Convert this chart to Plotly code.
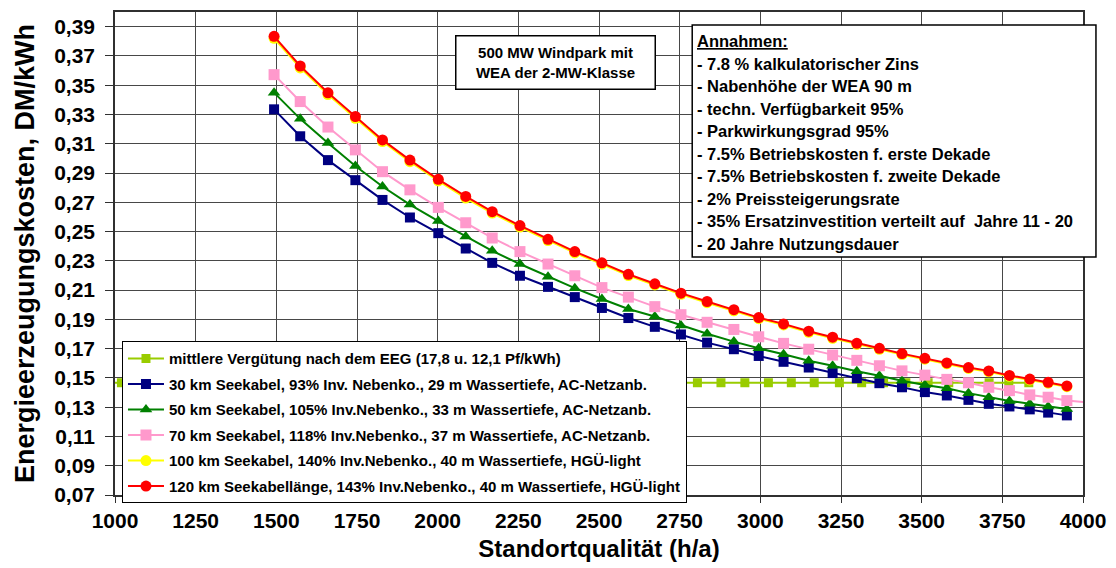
import plotly.graph_objects as go

# Standortqualität (Volllaststunden, h/a) der berechneten Fälle
standort = [1493, 1574, 1660, 1745, 1829, 1914, 2002, 2087, 2169, 2255, 2342,
            2425, 2509, 2591, 2673, 2754, 2835, 2918, 2995, 3072, 3150, 3224,
            3299, 3369, 3439, 3510, 3578, 3645, 3708, 3772, 3835, 3892, 3950]
standort_70km = standort + [4030]
standort_eeg = [920, 1020, 1115, 1209, 1302, 1394, 1485, 1575, 1664, 1752, 1839,
                1925, 2010, 2094, 2177, 2259, 2340, 2420, 2499, 2577, 2654, 2730,
                2805, 2878, 2952, 3025, 3096, 3167, 3245, 3314, 3382, 3451, 3520,
                3584, 3646, 3709, 3770, 3832]

# Energieerzeugungskosten in DM/kWh
eeg = [0.1467, 0.1467, 0.1467, 0.1467, 0.1467, 0.1467, 0.1467, 0.1467, 0.1467,
       0.1467, 0.1467, 0.1467, 0.1467, 0.1467, 0.1467, 0.1467, 0.1467, 0.1467,
       0.1467, 0.1467, 0.1467, 0.1467, 0.1467, 0.1467, 0.1467, 0.1467, 0.1467,
       0.1467, 0.1467, 0.1467, 0.1467, 0.1467, 0.1467, 0.1467, 0.1467, 0.1467,
       0.1467, 0.1467]
km30 = [0.3335, 0.3151, 0.2988, 0.2851, 0.2716, 0.2596, 0.2489, 0.2384, 0.2286,
        0.2198, 0.2122, 0.2052, 0.1978, 0.1909, 0.1849, 0.1797, 0.1741, 0.1696,
        0.1650, 0.1610, 0.1571, 0.1533, 0.1498, 0.1464, 0.1436, 0.1403, 0.1380,
        0.1350, 0.1323, 0.1305, 0.1285, 0.1263, 0.1244]
km50 = [0.3449, 0.3270, 0.3105, 0.2948, 0.2808, 0.2684, 0.2572, 0.2467, 0.2368,
        0.2278, 0.2192, 0.2113, 0.2039, 0.1971, 0.1919, 0.1858, 0.1802, 0.1748,
        0.1702, 0.1662, 0.1617, 0.1583, 0.1545, 0.1515, 0.1481, 0.1452, 0.1429,
        0.1396, 0.1368, 0.1343, 0.1323, 0.1305, 0.1287]
km70 = [0.3572, 0.3388, 0.3214, 0.3058, 0.2909, 0.2785, 0.2665, 0.2560, 0.2456,
        0.2363, 0.2278, 0.2198, 0.2117, 0.2052, 0.1987, 0.1932, 0.1880, 0.1831,
        0.1781, 0.1736, 0.1696, 0.1656, 0.1620, 0.1583, 0.1548, 0.1519, 0.1490,
        0.1467, 0.1436, 0.1413, 0.1384, 0.1368, 0.1345, 0.1330]
km100 = [0.3820, 0.3618, 0.3436, 0.3274, 0.3115, 0.2977, 0.2846, 0.2729, 0.2626,
         0.2531, 0.2438, 0.2354, 0.2277, 0.2199, 0.2135, 0.2071, 0.2014, 0.1958,
         0.1905, 0.1862, 0.1812, 0.1771, 0.1729, 0.1695, 0.1660, 0.1628, 0.1596,
         0.1565, 0.1542, 0.1511, 0.1486, 0.1464, 0.1440]
km120 = [0.3834, 0.3631, 0.3448, 0.3286, 0.3126, 0.2988, 0.2857, 0.2740, 0.2636,
         0.2541, 0.2447, 0.2363, 0.2286, 0.2208, 0.2143, 0.2079, 0.2022, 0.1966,
         0.1912, 0.1869, 0.1819, 0.1778, 0.1736, 0.1702, 0.1666, 0.1634, 0.1602,
         0.1571, 0.1548, 0.1517, 0.1492, 0.1470, 0.1445]

namen = [
    "mittlere Vergütung nach dem EEG (17,8 u. 12,1 Pf/kWh)",
    "30 km Seekabel, 93% Inv. Nebenko., 29 m Wassertiefe, AC-Netzanb.",
    "50 km Seekabel, 105% Inv.Nebenko., 33 m Wassertiefe, AC-Netzanb.",
    "70 km Seekabel, 118% Inv.Nebenko., 37 m Wassertiefe, AC-Netzanb.",
    "100 km Seekabel, 140% Inv.Nebenko., 40 m Wassertiefe, HGÜ-light",
    "120 km Seekabellänge, 143% Inv.Nebenko., 40 m Wassertiefe, HGÜ-light",
]

annahmen = [
    "- 7.8 % kalkulatorischer Zins",
    "- Nabenhöhe der WEA 90 m",
    "- techn. Verfügbarkeit 95%",
    "- Parkwirkungsgrad 95%",
    "- 7.5% Betriebskosten f. erste Dekade",
    "- 7.5% Betriebskosten f. zweite Dekade",
    "- 2% Preissteigerungsrate",
    "- 35% Ersatzinvestition verteilt auf  Jahre 11 - 20",
    "- 20 Jahre Nutzungsdauer",
]

FONT = "Arial, Liberation Sans, sans-serif"

serien = [
    (standort_eeg, eeg, "#99CC00", "square", 9),
    (standort, km30, "#000080", "square", 10),
    (standort, km50, "#008000", "triangle-up", 11),
    (standort_70km, km70, "#FF99CC", "square", 11),
    (standort, km100, "#FFFF00", "circle", 11),
    (standort, km120, "#FF0000", "circle", 11),
]

fig = go.Figure()
for i, ((xv, yv, farbe, symbol, groesse), name) in enumerate(zip(serien, namen)):
    fig.add_trace(go.Scatter(
        x=xv, y=yv, name=name, mode="lines+markers",
        legendgroup=f"g{i}",
        line=dict(color=farbe, width=2),
        marker=dict(color=farbe, symbol=symbol, size=groesse, line=dict(width=0)),
    ))

# Plotbereich in Pixeln (für Papierkoordinaten der Textkästen)
L, R, T, B = 115, 30, 10, 71
W, H = 1116, 568
pw, ph = W - L - R, H - T - B


def px_x(px):
    return (px - L) / pw


def px_y(py):
    return (H - B - py) / ph


annotations = [dict(
    text="<b>500 MW Windpark mit<br>WEA der 2-MW-Klasse</b>",
    xref="paper", yref="paper", x=px_x(556.5), y=px_y(61),
    xanchor="center", yanchor="middle", showarrow=False,
    width=198, height=52, align="center",
    bgcolor="white", bordercolor="black", borderwidth=1.5, borderpad=0,
    font=dict(family=FONT, size=15, color="black"),
)]

zeilen = ['<b><span style="text-decoration:underline">Annahmen:</span></b>'] + \
         [f"<b>{t}</b>" for t in annahmen]
for k, t in enumerate(zeilen):
    annotations.append(dict(
        text=t, xref="paper", yref="paper",
        x=px_x(697), y=px_y(39.5 + 22.7 * k),
        xanchor="left", yanchor="middle", showarrow=False, align="left",
        font=dict(family=FONT, size=16.5, color="black"),
    ))

shapes = [dict(
    type="rect", xref="paper", yref="paper",
    x0=px_x(694), x1=px_x(1099), y0=px_y(257), y1=px_y(23),
    fillcolor="white", line=dict(color="black", width=1.5), layer="above",
)]

fig.update_layout(
    width=W, height=H,
    margin=dict(l=L, r=R, t=T, b=B, pad=0),
    paper_bgcolor="white", plot_bgcolor="white",
    separators=",.",
    font=dict(family=FONT, color="black"),
    showlegend=True,
    legend=dict(
        x=px_x(122), y=px_y(342), xanchor="left", yanchor="top",
        bgcolor="white", bordercolor="black", borderwidth=1,
        font=dict(family=FONT, size=15, color="black", weight="bold"),
        traceorder="grouped", tracegroupgap=3,
        itemwidth=36,
    ),
    annotations=annotations,
    shapes=shapes,
)

fig.update_xaxes(
    range=[1000, 4000], tick0=1000, dtick=250,
    showgrid=True, gridcolor="#484848", gridwidth=1.4,
    showline=True, linecolor="#303030", linewidth=1.5, mirror=True,
    ticks="outside", ticklen=6, tickcolor="#303030",
    tickfont=dict(family=FONT, size=21, color="black", weight="bold"),
    title=dict(text="<b>Standortqualität (h/a)</b>", standoff=9,
               font=dict(family=FONT, size=24, color="black")),
    zeroline=False,
)
fig.update_yaxes(
    range=[0.07, 0.40], tick0=0.07, dtick=0.02, tickformat=".2f",
    showgrid=True, gridcolor="#484848", gridwidth=1.4,
    showline=True, linecolor="#303030", linewidth=1.5, mirror=True,
    ticks="outside", ticklen=8, tickcolor="#303030", ticklabelstandoff=6,
    tickfont=dict(family=FONT, size=21, color="black", weight="bold"),
    title=dict(text="<b>Energieerzeugungskosten, DM/kWh</b>", standoff=12,
               font=dict(family=FONT, size=27, color="black")),
    zeroline=False,
)

fig.write_html("out.html")
